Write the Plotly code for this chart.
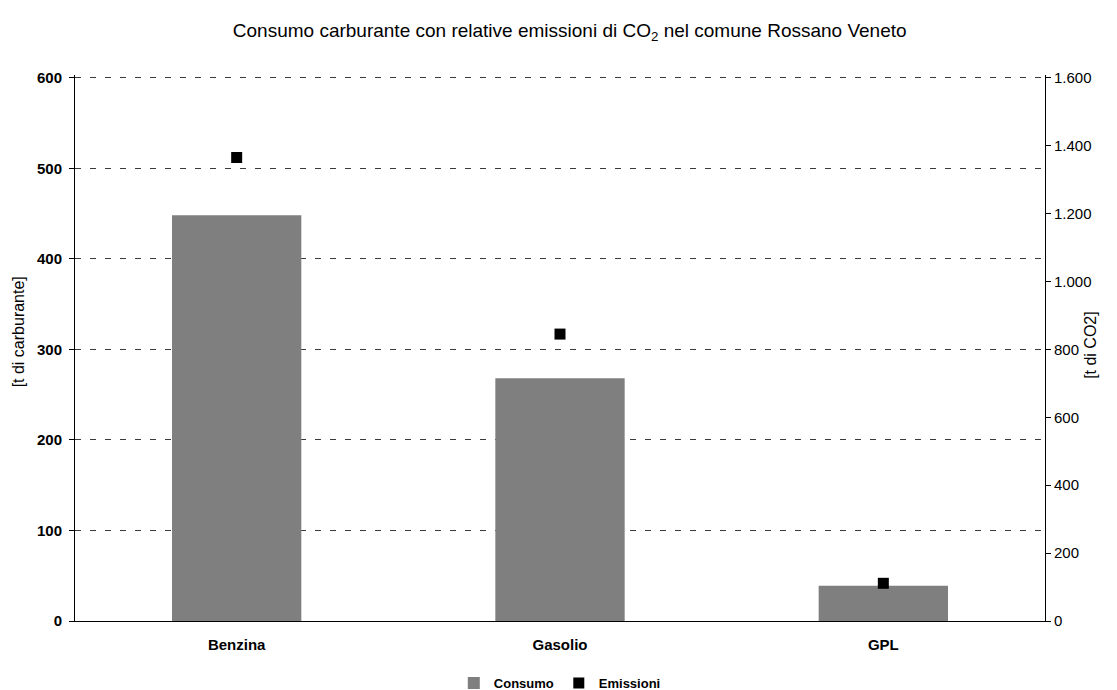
import plotly.graph_objects as go

# fuel types and values
categories = ["Benzina", "Gasolio", "GPL"]
consumo = [448, 268, 39]         # [t di carburante]
emissioni = [1365, 845, 111]     # [t di CO2]

left_ticks = [0, 100, 200, 300, 400, 500, 600]
right_ticks = [0, 200, 400, 600, 800, 1000, 1200, 1400, 1600]

FONT = "Liberation Sans, Arial, sans-serif"

# small headroom so the 600 gridline is drawn below the top edge
left_max = 603
right_max = left_max * 1600 / 600

fig = go.Figure()

fig.add_trace(go.Bar(
    x=categories, y=consumo, name="Consumo",
    marker=dict(color="#7f7f7f", line=dict(width=0)),
    width=0.40, yaxis="y",
))

fig.add_trace(go.Scatter(
    x=categories, y=emissioni, name="Emissioni",
    mode="markers", yaxis="y2",
    marker=dict(symbol="square", size=11, color="#000000"),
))

fig.update_layout(
    width=1117, height=690,
    paper_bgcolor="white", plot_bgcolor="white",
    margin=dict(l=67, r=80, t=67, b=77, autoexpand=False),
    separators=",.",
    font=dict(family=FONT, size=12, color="#000000"),
    title=dict(
        text="Consumo carburante con relative emissioni di CO<sub>2</sub> nel comune Rossano Veneto",
        xref="paper", x=0.51, xanchor="center",
        yref="container", y=0.968, yanchor="middle",
        font=dict(family=FONT, size=19, color="#000000"),
    ),
    xaxis=dict(
        type="category", range=[-0.5, 2.5],
        showline=True, linecolor="#000000", linewidth=1,
        ticks="", showgrid=False, ticklabelstandoff=10,
        tickfont=dict(family=FONT, size=15, weight="bold"),
    ),
    yaxis=dict(
        range=[0, left_max], tickvals=left_ticks, automargin=False,
        showline=True, linecolor="#000000", linewidth=1,
        ticks="outside", ticklen=5, tickcolor="#000000",
        ticklabelstandoff=4,
        showgrid=True, gridcolor="#3a3a3a", gridwidth=1, griddash="6px,9px",
        zeroline=False,
        tickfont=dict(family=FONT, size=15, weight="bold"),
    ),
    yaxis2=dict(
        range=[0, right_max], tickvals=right_ticks, tickformat=",d",
        overlaying="y", side="right", automargin=False,
        showline=True, linecolor="#000000", linewidth=1,
        ticks="outside", ticklen=5, tickcolor="#000000",
        showgrid=False, zeroline=False,
        tickfont=dict(family=FONT, size=15),
    ),
    legend=dict(
        orientation="h", xref="container", x=0.494, xanchor="center",
        yref="container", y=0.0, yanchor="bottom",
        font=dict(family=FONT, size=13, weight="bold"),
        itemwidth=30, tracegroupgap=0,
    ),
    annotations=[
        dict(text="[t di carburante]", textangle=-90, showarrow=False,
             xref="paper", x=-0.058, xanchor="center",
             yref="paper", y=0.53, yanchor="middle",
             font=dict(family=FONT, size=16)),
        dict(text="[t di CO2]", textangle=-90, showarrow=False,
             xref="paper", x=1.047, xanchor="center",
             yref="paper", y=0.505, yanchor="middle",
             font=dict(family=FONT, size=16)),
    ],
)

fig.write_html("out.html")
